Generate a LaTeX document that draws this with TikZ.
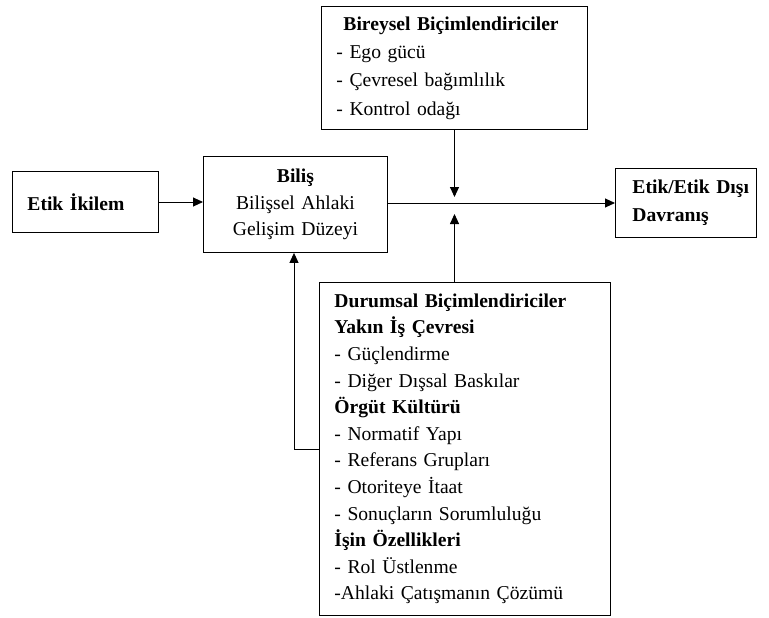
\documentclass[tikz,border=0pt]{standalone}
\usepackage{fontspec}
\setmainfont[WordSpace=0.65]{Liberation Serif}
\usetikzlibrary{arrows.meta}
\begin{document}
\begin{tikzpicture}[x=1pt,y=-1pt,
  box/.style={draw, line width=0.9pt, inner sep=0pt, font=\fontsize{19.6}{26.6}\selectfont},
  flow/.style={line width=0.9pt, -{Triangle[length=10pt,width=9pt]}},
  link/.style={line width=0.9pt}]
\useasboundingbox (0,0) rectangle (769,618);

% boxes
\node[box, anchor=north west, minimum width=146, minimum height=61,
      inner xsep=15, text width=116, align=left] (etik) at (12,171)
  {\textbf{Etik İkilem}};
\node[box, anchor=north west, minimum width=184, minimum height=96,
      text width=184, align=center] (bilis) at (203,156)
  {\textbf{Biliş}\\Bilişsel Ahlaki\\Gelişim Düzeyi};
\node[box, anchor=north west, minimum width=141, minimum height=69,
      inner xsep=0, text width=141, align=left,
      font=\fontsize{19.6}{27.5}\selectfont] (davranis) at (615,168)
  {\hspace*{17pt}\textbf{Etik/Etik Dışı}\\\hspace*{17pt}\textbf{Davranış}};
\node[box, anchor=north west, minimum width=266, minimum height=123,
      inner xsep=15, text width=236, align=left,
      font=\fontsize{19.6}{28.3}\selectfont] (bireysel) at (321,6)
  {\hspace*{7pt}\textbf{Bireysel Biçimlendiriciler}\\
   - Ego gücü\\
   - Çevresel bağımlılık\\
   - Kontrol odağı};
\node[box, anchor=north west, minimum width=291, minimum height=333,
      inner xsep=15, text width=261, align=left] (durumsal) at (319,282)
  {\textbf{Durumsal Biçimlendiriciler}\\
   \textbf{Yakın İş Çevresi}\\
   - Güçlendirme\\
   - Diğer Dışsal Baskılar\\
   \textbf{Örgüt Kültürü}\\
   - Normatif Yapı\\
   - Referans Grupları\\
   - Otoriteye İtaat\\
   - Sonuçların Sorumluluğu\\
   \textbf{İşin Özellikleri}\\
   - Rol Üstlenme\\
   -Ahlaki Çatışmanın Çözümü};

% junction points
\coordinate (main) at (454.5,203);
\coordinate (topin) at (454.5,197);
\coordinate (botin) at (454.5,214);
\coordinate (fb) at (294,449);

% connectors
\draw[flow] (etik.east |- 0,202) -- (bilis.west |- 0,202);
\draw[flow] (bilis.east |- main) -- (davranis.west |- main);
\draw[flow] (bireysel.south -| topin) -- (topin);
\draw[flow] (durumsal.north -| botin) -- (botin);
\draw[flow] (durumsal.west |- fb) -- (fb) -- (bilis.south -| fb);
\end{tikzpicture}
\end{document}
